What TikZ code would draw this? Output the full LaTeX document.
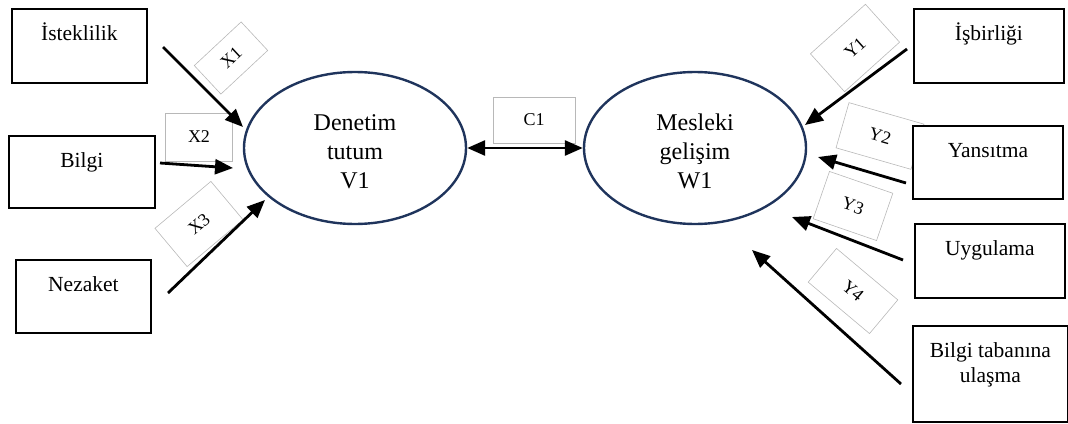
\documentclass[tikz,border=0pt]{standalone}
\usepackage{fontspec}
\setmainfont{Liberation Serif}
\usepackage{tikz}
\usetikzlibrary{shapes.geometric, arrows.meta}
\definecolor{ovalblue}{RGB}{31,52,92}

\begin{document}
\begin{tikzpicture}[x=1pt, y=-1pt, >={Triangle[length=18pt, width=15pt]},
    box/.style={draw, line width=1.8pt, fill=white, anchor=north west, inner sep=0pt, text height=32pt, font=\fontsize{21.5}{25}\selectfont},
    oval/.style={ellipse, draw=ovalblue, line width=2.4pt, minimum width=222pt, minimum height=152pt, inner sep=0pt, align=center, text height=80pt, text depth=0pt, font=\fontsize{24}{29}\selectfont},
    coef/.style={draw=black!28, line width=0.6pt, inner sep=0pt, font=\fontsize{18}{18}\selectfont},
    link/.style={line width=2.8pt, ->}]

    \useasboundingbox (0,0) rectangle (1068,423);

    % path coefficients
    \node[coef, minimum width=64pt, minimum height=39pt, rotate=43] (cx1) at (231,58) {X1};
    \node[coef, minimum width=67pt, minimum height=48pt] (cx2) at (199,137) {X2};
    \node[coef, minimum width=73pt, minimum height=50pt, rotate=40] (cx3) at (199,224) {X3};
    \node[coef, minimum width=82pt, minimum height=46pt] (cc1) at (534,120) {C1};
    \node[coef, minimum width=74pt, minimum height=51pt, rotate=42] (cy1) at (855,48) {Y1};
    \node[coef, minimum width=78pt, minimum height=47pt, rotate=-16] (cy2) at (880,136) {Y2};
    \node[coef, minimum width=67pt, minimum height=50pt, rotate=-19] (cy3) at (853,206) {Y3};
    \node[coef, minimum width=80pt, minimum height=44pt, rotate=-40] (cy4) at (853,291) {Y4};

    % indicators
    \node[box, minimum width=135pt, text depth=42pt] (istek) at (11,8) {İsteklilik};
    \node[box, minimum width=146pt, text depth=40pt] (bilgi) at (8,135) {Bilgi};
    \node[box, minimum width=135pt, text depth=41pt] (nezaket) at (15,259) {Nezaket};
    \node[box, minimum width=150pt, text depth=42pt] (isbirligi) at (913,8) {İşbirliği};
    \node[box, minimum width=150pt, text depth=41pt] (yansitma) at (912,125) {Yansıtma};
    \node[box, minimum width=150pt, text depth=42pt] (uygulama) at (914,223) {Uygulama};
    \node[box, minimum width=155pt, text height=57pt, text depth=39pt, align=center] (tabani) at (912,325) {Bilgi tabanına\\ulaşma};

    % latent variables
    \node[oval] (v1) at (355,148) {Denetim\\tutum\\V1};
    \node[oval] (w1) at (695,148) {Mesleki\\gelişim\\W1};

    \coordinate (x1s) at (163,47);  \coordinate (x1e) at (243,127);
    \coordinate (x2s) at (160,163); \coordinate (x2e) at (233,168);
    \coordinate (x3s) at (168,293); \coordinate (x3e) at (265,200);
    \coordinate (y1s) at (907,49);  \coordinate (y1e) at (805,125);
    \coordinate (y2s) at (906,183); \coordinate (y2e) at (818,157);
    \coordinate (y3s) at (903,260); \coordinate (y3e) at (792,217);
    \coordinate (y4s) at (901,384); \coordinate (y4e) at (752,250);

    \draw[link] (x1s) -- (x1e);
    \draw[link] (x2s) -- (x2e);
    \draw[link] (x3s) -- (x3e);
    \draw[link, <->] (v1.east) -- (w1.west);
    \draw[link] (y1s) -- (y1e);
    \draw[link] (y2s) -- (y2e);
    \draw[link] (y3s) -- (y3e);
    \draw[link] (y4s) -- (y4e);

\end{tikzpicture}
\end{document}
